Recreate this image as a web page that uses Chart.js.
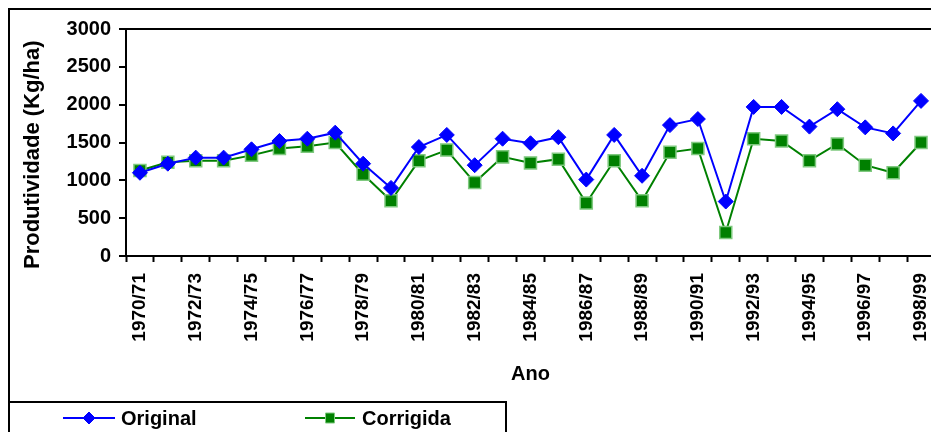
<!DOCTYPE html>
<html>
<head>
<meta charset="utf-8">
<script src="https://cdn.jsdelivr.net/npm/chart.js@4.4.0/dist/chart.umd.min.js"></script>
<style>
html, body { margin: 0; padding: 0; background: #fff; overflow: hidden; }
#wrap { width: 931px; height: 432px; overflow: hidden; }
</style>
</head>
<body>
<div id="wrap"><canvas id="myChart" width="955" height="432"></canvas></div>
<script>
const years = [
  "1970/71", "1971/72", "1972/73", "1973/74", "1974/75", "1975/76", "1976/77", "1977/78",
  "1978/79", "1979/80", "1980/81", "1981/82", "1982/83", "1983/84", "1984/85", "1985/86",
  "1986/87", "1987/88", "1988/89", "1989/90", "1990/91", "1991/92", "1992/93", "1993/94",
  "1994/95", "1995/96", "1996/97", "1997/98", "1998/99"
];
const original = [1100, 1220, 1300, 1300, 1410, 1520, 1550, 1630, 1220, 900, 1440, 1600, 1200, 1550, 1490,
  1570, 1010, 1600, 1060, 1730, 1810, 720, 1970, 1970, 1710, 1940, 1700, 1620, 2050];
const corrigida = [1130, 1240, 1260, 1260, 1330, 1420, 1450, 1500, 1080, 730, 1260, 1400, 970, 1310, 1230,
  1280, 700, 1260, 730, 1370, 1420, 310, 1550, 1520, 1260, 1480, 1200, 1100, 1500];
const yTicks = [0, 500, 1000, 1500, 2000, 2500, 3000];

const FONT = "'Liberation Sans', Arial, sans-serif";
Chart.defaults.font.family = FONT;
Chart.defaults.color = "#000";

// frame + legend drawn like the excel chart
const framePlugin = {
  id: "frame",
  afterDraw(chart) {
    const ctx = chart.ctx;
    ctx.save();
    ctx.strokeStyle = "#000";
    ctx.lineWidth = 2;
    ctx.beginPath();
    ctx.moveTo(9, 432); ctx.lineTo(9, 9); ctx.lineTo(955, 9);
    ctx.stroke();
    ctx.beginPath();
    ctx.moveTo(9, 402); ctx.lineTo(506, 402); ctx.lineTo(506, 432);
    ctx.stroke();

    const items = [
      {ds: chart.data.datasets[0], x0: 63, x1: 115, tx: 121},
      {ds: chart.data.datasets[1], x0: 305, x1: 355, tx: 362}
    ];
    const y = 418;
    items.forEach(function(it) {
      const cx = (it.x0 + it.x1) / 2;
      ctx.strokeStyle = it.ds.borderColor;
      ctx.lineWidth = 2;
      ctx.beginPath(); ctx.moveTo(it.x0, y); ctx.lineTo(it.x1, y); ctx.stroke();
      ctx.fillStyle = it.ds.pointBackgroundColor;
      ctx.strokeStyle = it.ds.pointBorderColor;
      ctx.lineWidth = 1;
      ctx.beginPath();
      if (it.ds.pointStyle === "rectRot") {
        ctx.moveTo(cx, y - 6); ctx.lineTo(cx + 6, y); ctx.lineTo(cx, y + 6); ctx.lineTo(cx - 6, y);
        ctx.closePath();
      } else {
        ctx.rect(cx - 4.5, y - 5, 9, 10);
      }
      ctx.fill(); ctx.stroke();
      ctx.fillStyle = "#000";
      ctx.font = "bold 20px " + FONT;
      ctx.textBaseline = "middle";
      ctx.fillText(it.ds.label, it.tx, y + 1);
    });
    ctx.restore();
  }
};

const chart = new Chart("myChart", {
  type: "line",
  data: {
    labels: years,
    datasets: [{
      label: "Original",
      data: original,
      borderColor: "#0000ff",
      borderWidth: 2,
      pointStyle: "rectRot",
      pointRadius: 7.5,
      pointBackgroundColor: "#0000ff",
      pointBorderColor: "#0000ff",
      pointBorderWidth: 1,
      tension: 0,
      fill: false
    }, {
      label: "Corrigida",
      data: corrigida,
      borderColor: "#008000",
      borderWidth: 2,
      pointStyle: "rect",
      pointRadius: 8.5,
      pointBackgroundColor: "#008000",
      pointBorderColor: "#7fc97f",
      pointBorderWidth: 1.5,
      tension: 0,
      fill: false
    }]
  },
  options: {
    responsive: false,
    animation: false,
    devicePixelRatio: 1,
    layout: {padding: {left: 10, right: 6, top: 29, bottom: 42}},
    plugins: {legend: {display: false}, tooltip: {enabled: false}},
    scales: {
      x: {
        offset: true,
        grid: {offset: true, drawOnChartArea: false, tickLength: 6, tickColor: "#000", tickWidth: 2},
        border: {display: true, color: "#000", width: 2},
        ticks: {
          autoSkip: false, maxRotation: 90, minRotation: 90, padding: 11,
          font: {size: 19, weight: "bold"},
          callback: function(v, i) { return i % 2 === 0 ? years[i] : ""; }
        },
        title: {display: true, text: "Ano", font: {size: 20, weight: "bold"}, padding: {top: 0, bottom: 4}},
        afterFit: function(s) { s.height = 134; }
      },
      y: {
        min: yTicks[0],
        max: yTicks[yTicks.length - 1],
        grid: {
          drawOnChartArea: true, tickLength: 7, tickColor: "#000", tickWidth: 2, lineWidth: 2,
          color: function(c) { return c.tick && c.tick.value === 3000 ? "#000" : "rgba(0,0,0,0)"; }
        },
        border: {display: true, color: "#000", width: 2},
        ticks: {
          stepSize: 500, padding: 8, font: {size: 20, weight: "bold"},
          callback: function(v) { return String(v); }
        },
        title: {display: true, text: "Produtividade (Kg/ha)    ", font: {size: 22, weight: "bold"}, padding: {top: 10, bottom: 0}},
        afterFit: function(s) { s.width = 116; }
      }
    }
  },
  plugins: [framePlugin]
});
</script>
</body>
</html>
